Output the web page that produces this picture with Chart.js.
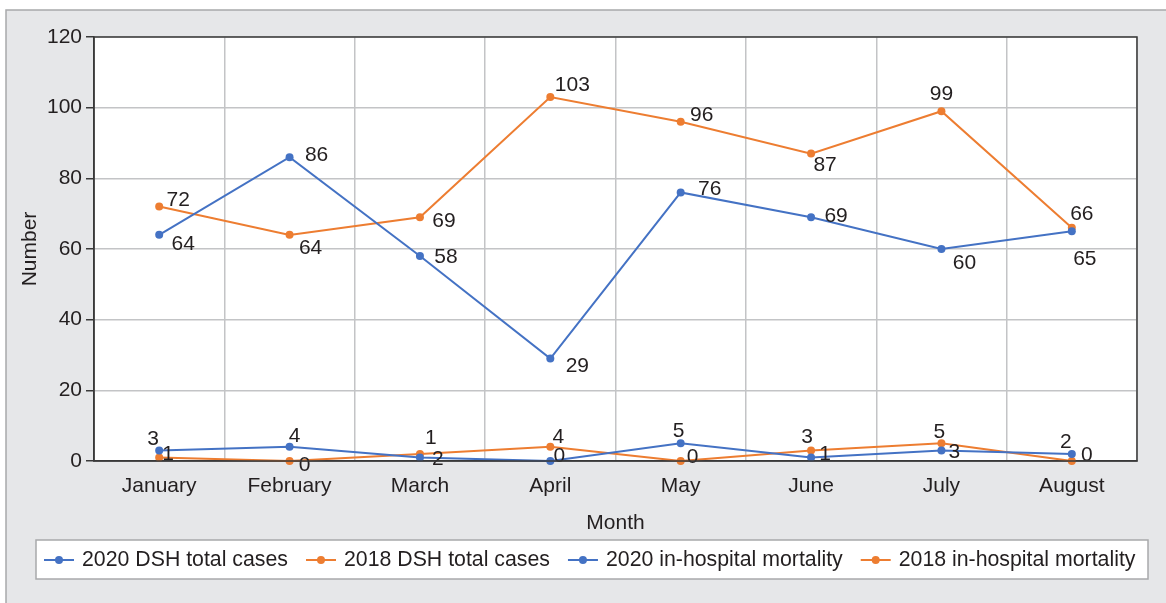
<!DOCTYPE html>
<html>
<head>
<meta charset="utf-8">
<script src="https://cdn.jsdelivr.net/npm/chart.js@4.4.0/dist/chart.umd.min.js"></script>
<style>
    html, body { margin: 0; padding: 0; background: #ffffff; }
    #wrap { position: relative; width: 1166px; height: 603px; }
</style>
</head>
<body>
<div id="wrap"><canvas id="chart"></canvas></div>
<script>
const months = ['January', 'February', 'March', 'April', 'May', 'June', 'July', 'August'];
const dsh2020 = [64, 86, 58, 29, 76, 69, 60, 65];
const dsh2018 = [72, 64, 69, 103, 96, 87, 99, 66];
const mortality2020 = [3, 4, 1, 0, 5, 1, 3, 2];
const mortality2018 = [1, 0, 2, 4, 0, 3, 5, 0];
const yTicks = [0, 20, 40, 60, 80, 100, 120];

// where each value label sits relative to its point (dx, dy in px)
const labelOffsets = [
    [[24, 9], [27, -2], [26, 1], [27, 8], [29, -3], [25, -1], [23, 14], [13, 28]],
    [[19, -6], [21, 13], [24, 4], [22, -12], [21, -7], [14, 12], [0, -17], [10, -14]],
    [[-6, -11], [5, -11], [11, -19], [9, -5], [-2, -12], [14, -3], [13, 2], [-6, -12]],
    [[9, -3], [15, 4], [18, 5], [8, -10], [12, -4], [-4, -13], [-2, -11], [15, -6]]
];

const BLUE = '#4472c4';
const ORANGE = '#ed7d31';
const FONT = '"Liberation Sans", Arial, sans-serif';
const TEXT = '#231f20';

function series(label, data, color) {
    return {
        label: label,
        data: data,
        borderColor: color,
        backgroundColor: color,
        borderWidth: 2,
        pointRadius: 4,
        pointBorderWidth: 0,
        pointBackgroundColor: color,
        tension: 0,
        clip: false
    };
}

// gray frame + white plot area + dark border round the plot
const framePlugin = {
    id: 'frame',
    beforeDraw(chart) {
        const ctx = chart.ctx;
        const a = chart.chartArea;
        ctx.save();
        ctx.fillStyle = '#ffffff';
        ctx.fillRect(0, 0, chart.width, chart.height);
        ctx.fillStyle = '#e6e7e9';
        ctx.fillRect(6, 10, chart.width, chart.height);
        ctx.strokeStyle = '#a8a9ab';
        ctx.lineWidth = 1.5;
        ctx.strokeRect(6, 10, chart.width + 10, chart.height + 10);
        ctx.fillStyle = '#ffffff';
        ctx.fillRect(a.left, a.top, a.right - a.left, a.bottom - a.top);
        ctx.restore();
    },
    afterDraw(chart) {
        const ctx = chart.ctx;
        const a = chart.chartArea;
        ctx.save();
        ctx.strokeStyle = '#3a3a3a';
        ctx.lineWidth = 1.5;
        ctx.strokeRect(a.left, a.top, a.right - a.left, a.bottom - a.top);
        ctx.restore();
    }
};

// value labels next to each point
const valueLabels = {
    id: 'valueLabels',
    afterDatasetsDraw(chart) {
        const ctx = chart.ctx;
        ctx.save();
        ctx.font = '21px ' + FONT;
        ctx.fillStyle = TEXT;
        ctx.textAlign = 'center';
        ctx.textBaseline = 'middle';
        chart.data.datasets.forEach((ds, i) => {
            const meta = chart.getDatasetMeta(i);
            meta.data.forEach((pt, j) => {
                const off = labelOffsets[i][j];
                ctx.fillText(String(ds.data[j]), pt.x + off[0], pt.y + off[1]);
            });
        });
        ctx.restore();
    }
};

// boxed legend along the bottom
const boxLegend = {
    id: 'boxLegend',
    afterDraw(chart) {
        const ctx = chart.ctx;
        const y = 560;
        ctx.save();
        ctx.fillStyle = '#ffffff';
        ctx.fillRect(36, 540, 1112, 39);
        ctx.strokeStyle = '#a8a9ab';
        ctx.lineWidth = 1.5;
        ctx.strokeRect(36, 540, 1112, 39);
        ctx.font = '21.3px ' + FONT;
        ctx.textBaseline = 'middle';
        ctx.textAlign = 'left';
        let x = 44;
        chart.data.datasets.forEach(ds => {
            ctx.strokeStyle = ds.borderColor;
            ctx.lineWidth = 2;
            ctx.beginPath();
            ctx.moveTo(x, y);
            ctx.lineTo(x + 30, y);
            ctx.stroke();
            ctx.fillStyle = ds.borderColor;
            ctx.beginPath();
            ctx.arc(x + 15, y, 4, 0, Math.PI * 2);
            ctx.fill();
            ctx.fillStyle = TEXT;
            ctx.fillText(ds.label, x + 38, y);
            x += 38 + ctx.measureText(ds.label).width + 18;
        });
        ctx.restore();
    }
};

const ctx = document.getElementById('chart').getContext('2d');
new Chart(ctx, {
    type: 'line',
    data: {
        labels: months,
        datasets: [
            series('2020 DSH total cases', dsh2020, BLUE),
            series('2018 DSH total cases', dsh2018, ORANGE),
            series('2020 in-hospital mortality', mortality2020, BLUE),
            series('2018 in-hospital mortality', mortality2018, ORANGE)
        ]
    },
    options: {
        responsive: true,
        maintainAspectRatio: false,
        animation: false,
        layout: { padding: { left: 0, top: 37, right: 29, bottom: 0 } },
        plugins: {
            legend: { display: false },
            tooltip: { enabled: false }
        },
        scales: {
            x: {
                offset: true,
                grid: { offset: true, color: '#c3c4c6', lineWidth: 1.5, drawTicks: false },
                border: { color: '#3a3a3a', width: 1.5 },
                ticks: { color: TEXT, font: { family: FONT, size: 21 }, padding: 13, maxRotation: 0 },
                title: {
                    display: true,
                    text: 'Month',
                    color: TEXT,
                    font: { family: FONT, size: 21 },
                    padding: { top: 0, bottom: 67 }
                },
                afterFit(scale) { scale.height = 142; }
            },
            y: {
                min: 0,
                max: 120,
                afterBuildTicks(scale) { scale.ticks = yTicks.map(v => ({ value: v })); },
                grid: { color: '#c3c4c6', lineWidth: 1.5, tickLength: 8, tickColor: '#3a3a3a' },
                border: { color: '#3a3a3a', width: 1.5 },
                ticks: { color: TEXT, font: { family: FONT, size: 21 }, padding: 4 },
                title: {
                    display: true,
                    text: 'Number',
                    color: TEXT,
                    font: { family: FONT, size: 21 },
                    padding: { top: 18, bottom: 0 }
                },
                afterFit(scale) { scale.width = 94; }
            }
        }
    },
    plugins: [framePlugin, valueLabels, boxLegend]
});
</script>
</body>
</html>
